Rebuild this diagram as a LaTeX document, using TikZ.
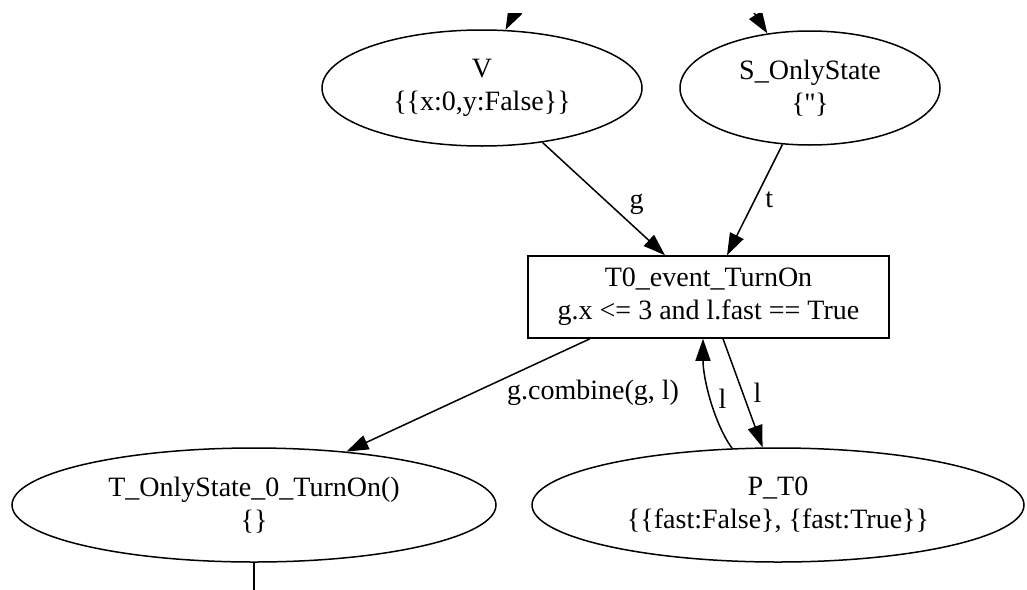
\documentclass[tikz,border=0pt]{standalone}
\usepackage{fontspec}
\setmainfont{Liberation Serif}
\usetikzlibrary{shapes.geometric,arrows.meta,positioning}
\begin{document}
\begin{tikzpicture}[x=1pt,y=-1pt,
  every node/.style={font=\fontsize{28}{33}\selectfont},
  place/.style={draw,line width=1.5pt,ellipse,inner sep=0pt,align=center},
  trans/.style={draw,line width=1.5pt,rectangle,inner sep=0pt,align=center,minimum width=361pt,minimum height=82pt},
  edge/.style={line width=1.5pt,-{Triangle[length=22pt,width=15pt]}},
  plain/.style={line width=1.5pt},
  lbl/.style={inner sep=1pt}]
\useasboundingbox (0,0) rectangle (1027,589);
\node[place,minimum width=320pt,minimum height=116pt] (V) at (482,88) {V\\\{\{x:0,y:False\}\}};
\node[place,minimum width=260pt,minimum height=114pt] (S) at (810,88) {S\_OnlyState\\\{\textquotesingle\textquotesingle\}};
\node[trans] (R) at (708.5,297) {T0\_event\_TurnOn\\g.x <= 3 and l.fast == True};
\node[place,minimum width=484pt,minimum height=114pt] (T) at (254,505) {T\_OnlyState\_0\_TurnOn()\\\{\}};
\node[place,minimum width=492pt,minimum height=114pt] (P) at (778,505) {P\_T0\\\{\{fast:False\}, \{fast:True\}\}};
\coordinate (inV) at (531,-20);
\coordinate (inS) at (733,-20);
\coordinate (outT) at (254,600);
\begin{scope}
\clip (0,13) rectangle (1027,589);
\draw[edge] (inV) -- (V.68);
\draw[edge] (inS) -- (S.128);
\end{scope}
\draw[plain] (T.south) -- (outT);
\draw[edge] (V.-42) -- ([xshift=-43.5pt]R.north) node[lbl,pos=0.55,right=18pt] {g};
\draw[edge] (S.-116) -- ([xshift=18.5pt]R.north) node[lbl,pos=0.5,right=9pt] {t};
\draw[edge] ([xshift=-118.5pt]R.south) -- (T.30) node[lbl,pos=0.45,anchor=west,xshift=25pt,yshift=-3pt] {g.combine(g, l)};
\draw[edge] (P.129) .. controls +(-18,-25) and +(0,40) .. ([xshift=-5.5pt]R.south) node[lbl,pos=0.5,right=6pt] {l};
\draw[edge] ([xshift=14.5pt]R.south) -- (P.105) node[lbl,pos=0.5,right=9pt] {l};
\end{tikzpicture}
\end{document}
